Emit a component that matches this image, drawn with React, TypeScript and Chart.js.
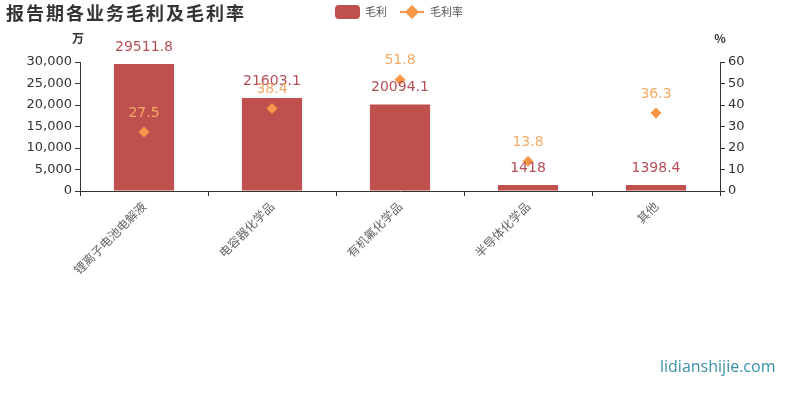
import React, { useEffect, useRef } from "react";
import { Chart, registerables } from "chart.js";

Chart.register(...registerables);

const categories = ["锂离子电池电解液", "电容器化学品", "有机氟化学品", "半导体化学品", "其他"];
const grossProfit = [29511.8, 21603.1, 20094.1, 1418, 1398.4];
const grossMargin = [27.5, 38.4, 51.8, 13.8, 36.3];

const BAR_COLOR = "#c0504d";
const LINE_COLOR = "#f79646";
const CJK = "'Noto Sans CJK SC', 'DejaVu Sans', sans-serif";

// value labels above bars and points
const labelsPlugin = {
  id: "valueLabels",
  afterDatasetsDraw(chart: any) {
    const ctx = chart.ctx;
    ctx.save();
    ctx.textAlign = "center";
    ctx.textBaseline = "bottom";
    ctx.font = "14px 'DejaVu Sans', sans-serif";
    chart.getDatasetMeta(0).data.forEach((el: any, i: number) => {
      ctx.fillStyle = "#b44e58";
      ctx.fillText(String(grossProfit[i]), el.x, el.y - 10);
    });
    chart.getDatasetMeta(1).data.forEach((el: any, i: number) => {
      ctx.fillStyle = "#f3aa66";
      ctx.fillText(String(grossMargin[i]), el.x, el.y - 12);
    });
    ctx.restore();
  },
  afterDraw(chart: any) {
    const ctx = chart.ctx;
    ctx.save();
    // title
    ctx.fillStyle = "#333";
    ctx.font = `bold 18px ${CJK}`;
    ctx.textBaseline = "middle";
    ctx.textAlign = "left";
    (ctx as any).letterSpacing = "2px";
    ctx.fillText("报告期各业务毛利及毛利率", 6, 13);
    (ctx as any).letterSpacing = "0px";

    // legend
    ctx.fillStyle = BAR_COLOR;
    ctx.beginPath();
    (ctx as any).roundRect(335, 5, 25, 14, 4);
    ctx.fill();
    ctx.font = `11px ${CJK}`;
    ctx.fillStyle = "#555";
    ctx.fillText("毛利", 365, 12);
    ctx.strokeStyle = LINE_COLOR;
    ctx.lineWidth = 2;
    ctx.beginPath();
    ctx.moveTo(400, 12);
    ctx.lineTo(424, 12);
    ctx.stroke();
    ctx.fillStyle = LINE_COLOR;
    ctx.beginPath();
    ctx.moveTo(412, 5);
    ctx.lineTo(419, 12);
    ctx.lineTo(412, 19);
    ctx.lineTo(405, 12);
    ctx.closePath();
    ctx.fill();
    ctx.fillStyle = "#555";
    ctx.fillText("毛利率", 430, 12);

    // axis units
    ctx.fillStyle = "#333";
    ctx.font = `bold 12px ${CJK}`;
    ctx.textAlign = "center";
    ctx.fillText("万", chart.chartArea.left - 2, 38);
    ctx.fillText("%", chart.chartArea.right, 38);

    // watermark
    ctx.font = "16px 'Open Sans', sans-serif";
    ctx.fillStyle = "#3a8fa8";
    ctx.textAlign = "left";
    ctx.fillText("lidianshijie.com", 660, 367);
    ctx.restore();
  },
};

const App: React.FC = () => {
  const canvasRef = useRef<HTMLCanvasElement | null>(null);
  const chartRef = useRef<Chart | null>(null);

  useEffect(() => {
    document.body.style.margin = "0";
    const el = canvasRef.current;
    if (!el) return;
    if (chartRef.current) chartRef.current.destroy();

    chartRef.current = new Chart(el, {
      type: "bar",
      data: {
        labels: categories,
        datasets: [
          {
            type: "bar",
            label: "毛利",
            data: grossProfit,
            backgroundColor: BAR_COLOR,
            yAxisID: "y",
            barPercentage: 0.47,
            categoryPercentage: 1,
            order: 2,
          },
          {
            type: "line",
            label: "毛利率",
            data: grossMargin,
            yAxisID: "y1",
            showLine: false,
            pointStyle: "rectRot",
            pointRadius: 5,
            pointBackgroundColor: LINE_COLOR,
            pointBorderColor: LINE_COLOR,
            borderColor: LINE_COLOR,
            order: 1,
          },
        ],
      },
      options: {
        responsive: false,
        animation: false,
        layout: { padding: { top: 62, left: 0, right: 0, bottom: 0 } },
        plugins: {
          legend: { display: false },
          tooltip: { enabled: false },
        },
        scales: {
          x: {
            offset: true,
            grid: {
              offset: true,
              drawOnChartArea: false,
              tickLength: 5,
              color: "#333",
            },
            border: { color: "#333" },
            ticks: {
              maxRotation: 45,
              minRotation: 45,
              color: "#666",
              font: { family: CJK, size: 12 },
              padding: 3,
            },
            afterFit: (s: any) => {
              s.height = 209;
            },
          },
          y: {
            position: "left",
            min: 0,
            max: 30000,
            ticks: {
              stepSize: 5000,
              color: "#333",
              font: { family: "'DejaVu Sans', sans-serif", size: 13 },
              padding: 3,
              callback: (v: any) => Number(v).toLocaleString("en-US"),
            },
            grid: { drawOnChartArea: false, tickLength: 5, color: "#333" },
            border: { color: "#333" },
            afterFit: (s: any) => {
              s.width = 80;
            },
          },
          y1: {
            position: "right",
            min: 0,
            max: 60,
            ticks: {
              stepSize: 10,
              color: "#333",
              font: { family: "'DejaVu Sans', sans-serif", size: 13 },
              padding: 3,
            },
            grid: { drawOnChartArea: false, tickLength: 5, color: "#333" },
            border: { color: "#333" },
            afterFit: (s: any) => {
              s.width = 80;
            },
          },
        },
      },
      plugins: [labelsPlugin],
    });

    return () => {
      if (chartRef.current) {
        chartRef.current.destroy();
        chartRef.current = null;
      }
    };
  }, []);

  return (
    <div style={{ width: 800, height: 400, background: "#fff" }}>
      <canvas ref={canvasRef} width={800} height={400}></canvas>
    </div>
  );
};

export default App;
